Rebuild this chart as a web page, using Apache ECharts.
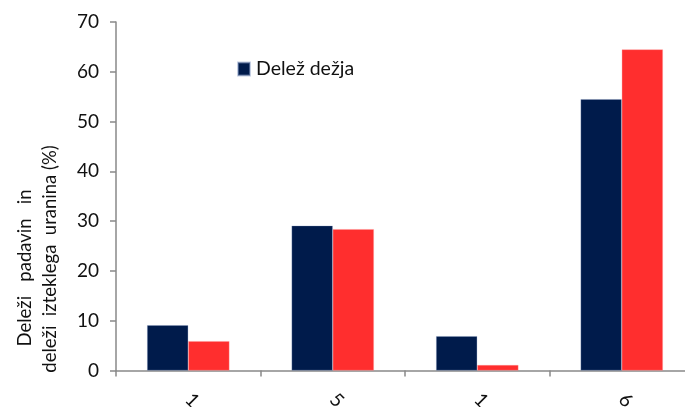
<!DOCTYPE html>
<html>
<head>
<meta charset="utf-8">
<script src="https://cdn.jsdelivr.net/npm/echarts@6/dist/echarts.min.js"></script>
<style>
  html, body { margin: 0; padding: 0; background: #ffffff; }
  #chart { width: 685px; height: 407px; }
</style>
</head>
<body>
<div id="chart"></div>
<script>
// Sampling periods along the x axis
const categories = ['1', '5', '1', '6'];
// Share of rainfall (%)
const rainShare = [9.1, 29.1, 6.9, 54.5];
// Share of discharged uranine (%)
const uranineShare = [5.9, 28.4, 1.1, 64.5];
// Value axis range
const yMin = 0;
const yMax = 70;
const yStep = 10;

const FONT = 'Lato, "Open Sans", sans-serif';
const AXIS_GREY = '#898989';
const TEXT = '#111111';

const chart = echarts.init(document.getElementById('chart'), null, { renderer: 'canvas' });

chart.setOption({
  animation: false,
  backgroundColor: '#ffffff',
  textStyle: { fontFamily: FONT },
  grid: {
    left: 116, top: 22, bottom: 36.5, width: 578,
    containLabel: false,
    outerBoundsMode: 'none'
  },
  legend: {
    data: ['Delež dežja'],
    left: 232,
    top: 54,
    icon: 'rect',
    itemWidth: 12,
    itemHeight: 13,
    textStyle: { fontFamily: FONT, fontSize: 19.5, color: TEXT, padding: [0, 0, 0, 1] }
  },
  xAxis: {
    type: 'category',
    data: categories,
    axisLine: { lineStyle: { color: AXIS_GREY, width: 1.5 } },
    axisTick: { show: true, length: 6, lineStyle: { color: AXIS_GREY, width: 1.5 } },
    axisLabel: {
      rotate: -45,
      margin: 26,
      fontFamily: FONT,
      fontSize: 19,
      color: TEXT
    }
  },
  yAxis: {
    type: 'value',
    min: yMin,
    max: yMax,
    interval: yStep,
    axisLine: { show: true, lineStyle: { color: AXIS_GREY, width: 1.5 } },
    axisTick: { show: true, length: 6, lineStyle: { color: AXIS_GREY, width: 1.5 } },
    splitLine: { show: false },
    axisLabel: { margin: 17, fontFamily: FONT, fontSize: 19, color: TEXT }
  },
  graphic: [
    {
      type: 'text',
      x: 25,
      y: 268,
      rotation: Math.PI / 2,
      style: {
        text: 'Deleži   padavin   in',
        fontFamily: FONT,
        fontSize: 18.5,
        fill: TEXT,
        align: 'center',
        verticalAlign: 'middle'
      }
    },
    {
      type: 'text',
      x: 50,
      y: 259,
      rotation: Math.PI / 2,
      style: {
        text: 'deleži  izteklega  uranina (%)',
        fontFamily: FONT,
        fontSize: 18.5,
        fill: TEXT,
        align: 'center',
        verticalAlign: 'middle'
      }
    }
  ],
  series: [
    {
      name: 'Delež dežja',
      type: 'bar',
      data: rainShare,
      barGap: '0%',
      barCategoryGap: '43%',
      itemStyle: { color: '#001B4B', borderColor: 'rgba(140,160,200,0.5)', borderWidth: 0.6 }
    },
    {
      name: 'Delež uranina',
      type: 'bar',
      data: uranineShare,
      barGap: '0%',
      barCategoryGap: '43%',
      itemStyle: { color: '#FF2E2E', borderColor: 'rgba(255,150,150,0.6)', borderWidth: 0.6 }
    }
  ]
});
</script>
</body>
</html>
